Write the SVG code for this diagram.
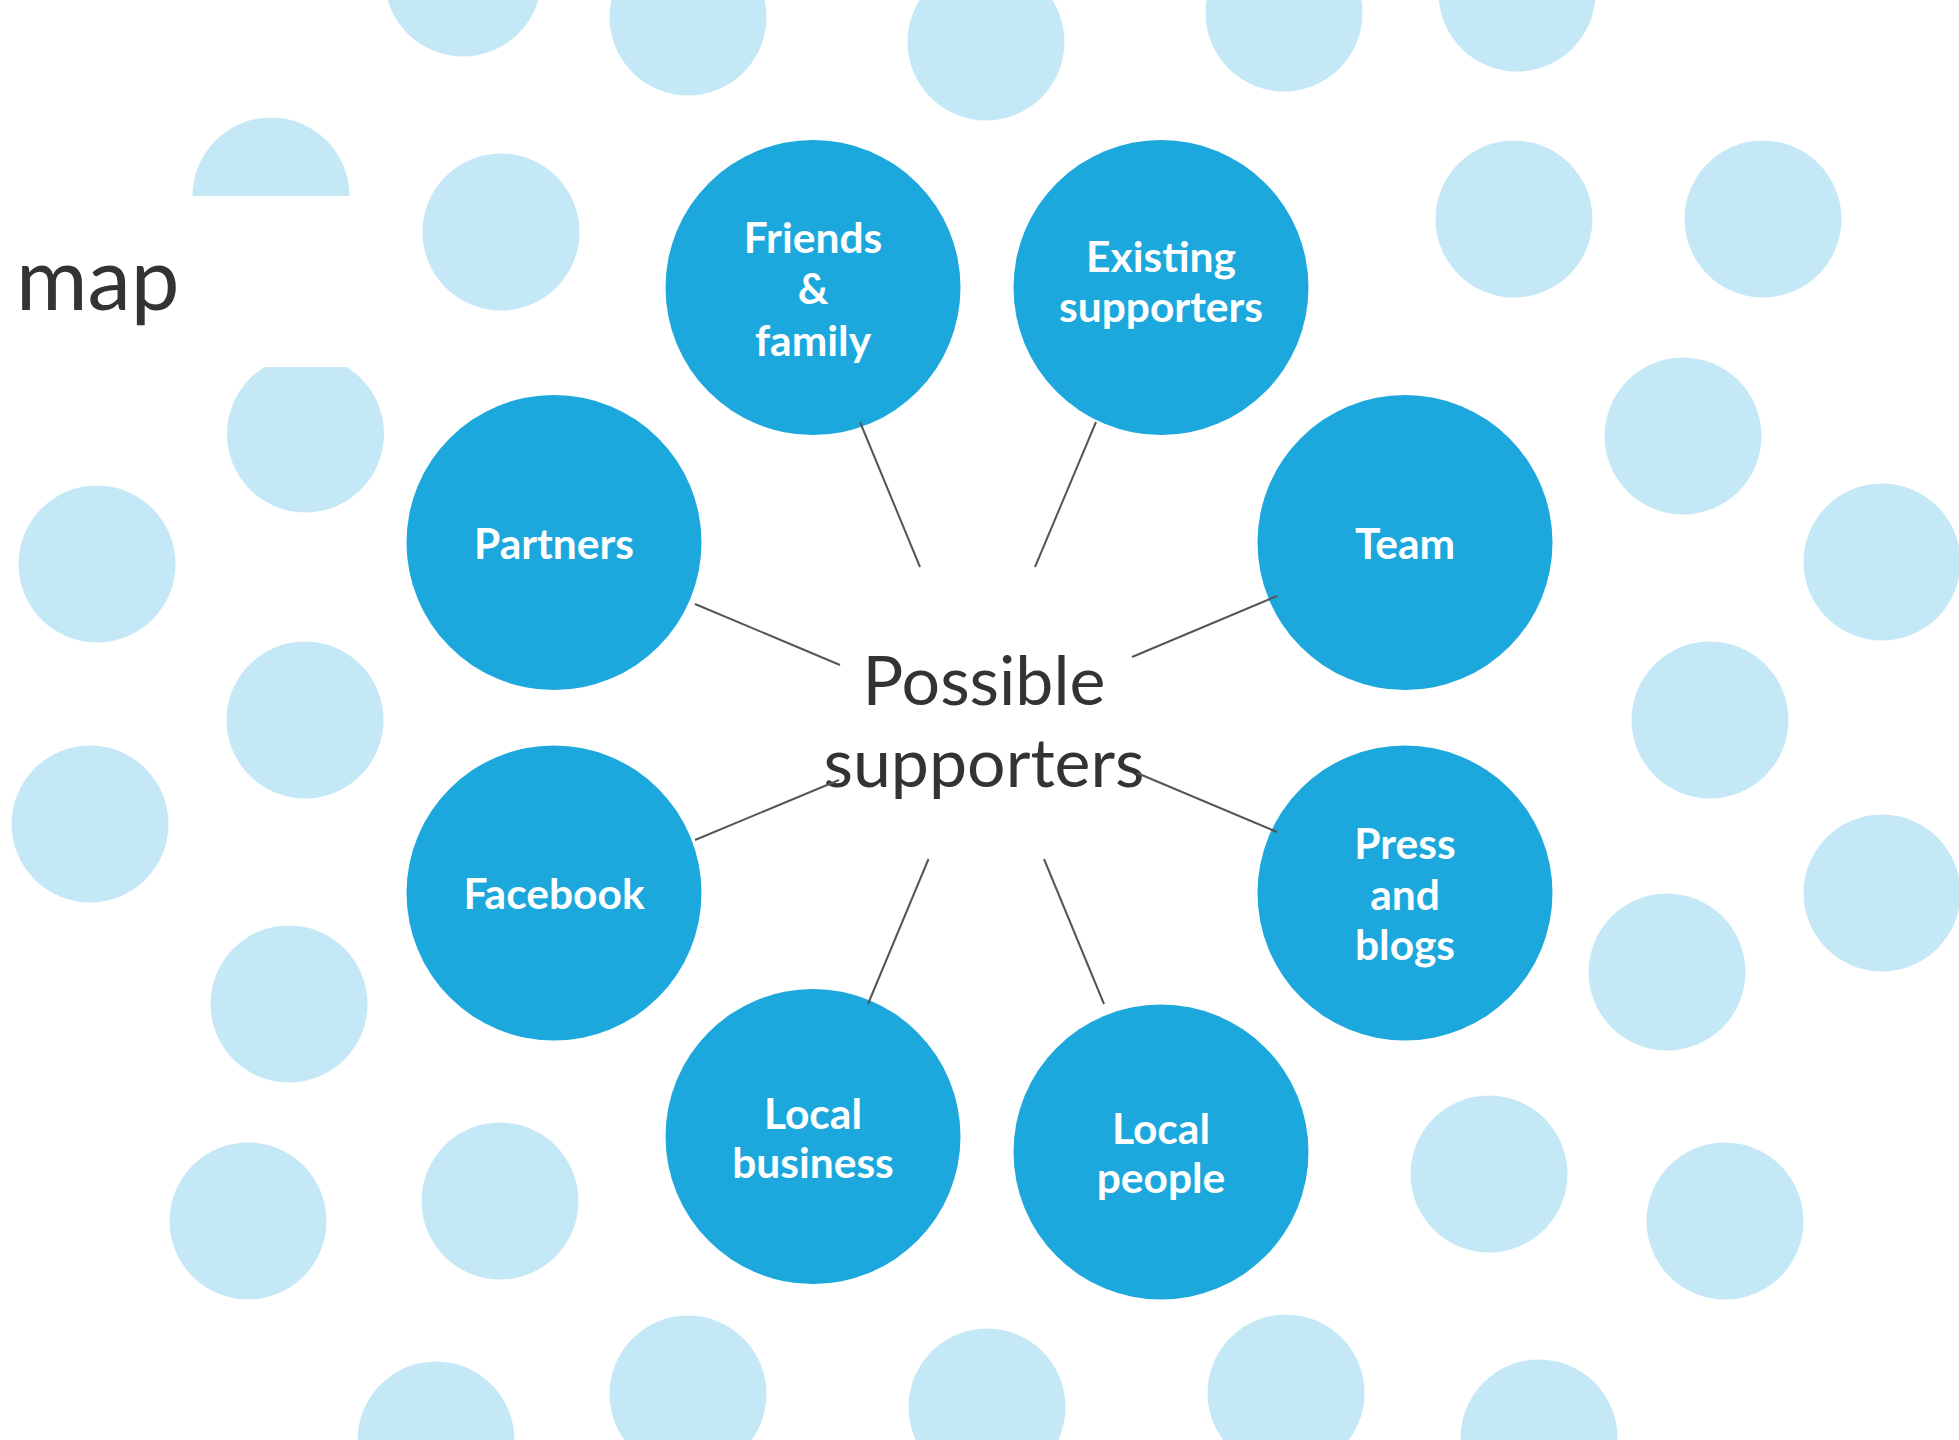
<svg xmlns="http://www.w3.org/2000/svg" width="1959" height="1440" viewBox="0 0 1959 1440">
<style>
.bg{fill:#C5E8F6}
.node{fill:#1CA8DC}
.lbl{font-family:Lato,"Liberation Sans",sans-serif;font-weight:700;font-size:42.5px;fill:#FFFFFF;text-anchor:middle}
.hub{font-family:Lato,"Liberation Sans",sans-serif;font-weight:400;font-size:68px;fill:#333333;text-anchor:middle}
.title{font-family:Lato,"Liberation Sans",sans-serif;font-weight:400;font-size:87px;fill:#333333}
.conn line{stroke:#555555;stroke-width:2;fill:none}
</style>
<rect width="1959" height="1440" fill="#FFFFFF"/>
<g id="background-dots">
<circle class="bg" cx="463" cy="-22" r="78.5"/>
<circle class="bg" cx="688" cy="17" r="78.5"/>
<circle class="bg" cx="986" cy="42" r="78.5"/>
<circle class="bg" cx="1284" cy="13" r="78.5"/>
<circle class="bg" cx="1517" cy="-7" r="78.5"/>
<path class="bg" d="M192.5,196 A78.5,78.5 0 0 1 349.5,196 Z"/>
<circle class="bg" cx="501" cy="232" r="78.5"/>
<circle class="bg" cx="1514" cy="219" r="78.5"/>
<circle class="bg" cx="1763" cy="219" r="78.5"/>
<path class="bg" d="M264.6,367 L346.4,367 A78.5,78.5 0 1 1 264.6,367 Z"/>
<circle class="bg" cx="1683" cy="436" r="78.5"/>
<circle class="bg" cx="97" cy="564" r="78.5"/>
<circle class="bg" cx="1882" cy="562" r="78.5"/>
<circle class="bg" cx="305" cy="720" r="78.5"/>
<circle class="bg" cx="1710" cy="720" r="78.5"/>
<circle class="bg" cx="90" cy="824" r="78.5"/>
<circle class="bg" cx="1882" cy="893" r="78.5"/>
<circle class="bg" cx="1667" cy="972" r="78.5"/>
<circle class="bg" cx="289" cy="1004" r="78.5"/>
<circle class="bg" cx="1489" cy="1174" r="78.5"/>
<circle class="bg" cx="248" cy="1221" r="78.5"/>
<circle class="bg" cx="500" cy="1201" r="78.5"/>
<circle class="bg" cx="1725" cy="1221" r="78.5"/>
<circle class="bg" cx="436" cy="1440" r="78.5"/>
<circle class="bg" cx="688" cy="1394" r="78.5"/>
<circle class="bg" cx="987" cy="1407" r="78.5"/>
<circle class="bg" cx="1286" cy="1393" r="78.5"/>
<circle class="bg" cx="1539" cy="1438" r="78.5"/>
</g>
<text class="title" x="16" y="310">map</text>
<g id="node-friends">
<circle class="node" cx="813" cy="287.5" r="147.5"/>
<text class="lbl" x="813" y="253">Friends</text>
<text class="lbl" x="813" y="304">&amp;</text>
<text class="lbl" x="813" y="356">family</text>
</g>
<g id="node-existing">
<circle class="node" cx="1161" cy="287.5" r="147.5"/>
<text class="lbl" x="1161" y="272">Existing</text>
<text class="lbl" x="1161" y="322">supporters</text>
</g>
<g id="node-partners">
<circle class="node" cx="554" cy="542.5" r="147.5"/>
<text class="lbl" x="554" y="559">Partners</text>
</g>
<g id="node-team">
<circle class="node" cx="1405" cy="542.5" r="147.5"/>
<text class="lbl" x="1405" y="559">Team</text>
</g>
<g id="node-facebook">
<circle class="node" cx="554" cy="893" r="147.5"/>
<text class="lbl" x="554" y="909">Facebook</text>
</g>
<g id="node-press">
<circle class="node" cx="1405" cy="893" r="147.5"/>
<text class="lbl" x="1405" y="858.5">Press</text>
<text class="lbl" x="1405" y="909.5">and</text>
<text class="lbl" x="1405" y="959.5">blogs</text>
</g>
<g id="node-local-business">
<circle class="node" cx="813" cy="1136.5" r="147.5"/>
<text class="lbl" x="813" y="1129">Local</text>
<text class="lbl" x="813" y="1178">business</text>
</g>
<g id="node-local-people">
<circle class="node" cx="1161" cy="1152" r="147.5"/>
<text class="lbl" x="1161" y="1144">Local</text>
<text class="lbl" x="1161" y="1193">people</text>
</g>
<g id="node-hub">
<text class="hub" x="984" y="705">Possible</text>
<text class="hub" x="984" y="787">supporters</text>
</g>
<g id="connectors" class="conn">
<line x1="860" y1="422" x2="920" y2="567"/>
<line x1="1096" y1="422" x2="1035" y2="567"/>
<line x1="695" y1="604" x2="840" y2="665"/>
<line x1="1277" y1="596" x2="1132" y2="657"/>
<line x1="695" y1="840" x2="839" y2="780"/>
<line x1="1137" y1="773" x2="1277" y2="832"/>
<line x1="928.5" y1="859" x2="868" y2="1004"/>
<line x1="1044" y1="859" x2="1104" y2="1004"/>
</g>
</svg>
